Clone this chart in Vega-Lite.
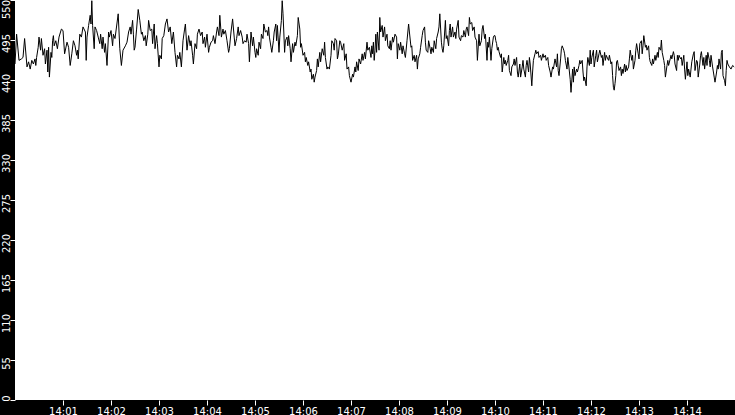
{
  "$schema": "https://vega.github.io/schema/vega-lite/v6.json",
  "description": "Reading over time, 14:00 to 14:15",
  "width": 720,
  "height": 400,
  "autosize": {"type": "none"},
  "padding": {"left": 15, "top": 0, "right": 0, "bottom": 15},
  "background": "#000000",
  "config": {
    "view": {"fill": "#ffffff", "stroke": null},
    "axis": {
      "labelFont": "DejaVu Sans",
      "labelFontSize": 10,
      "labelColor": "#ffffff",
      "tickColor": "#ffffff",
      "tickSize": 5,
      "tickWidth": 1,
      "domain": false,
      "grid": false,
      "title": null,
      "labelOverlap": false
    }
  },
  "data": {
    "format": {"parse": {"time": "date:'%H:%M:%S'"}},
    "values": [
      {"time":"14:00:00","value":462},{"time":"14:00:02","value":503},{"time":"14:00:05","value":467},{"time":"14:00:08","value":469},
      {"time":"14:00:10","value":471},{"time":"14:00:12","value":497},{"time":"14:00:15","value":458},{"time":"14:00:17","value":465},
      {"time":"14:00:19","value":455},{"time":"14:00:21","value":467},{"time":"14:00:23","value":462},{"time":"14:00:25","value":469},
      {"time":"14:00:26","value":460},{"time":"14:00:27","value":471},{"time":"14:00:29","value":485},{"time":"14:00:30","value":499},
      {"time":"14:00:32","value":481},{"time":"14:00:33","value":497},{"time":"14:00:35","value":474},{"time":"14:00:37","value":483},
      {"time":"14:00:38","value":462},{"time":"14:00:40","value":481},{"time":"14:00:41","value":451},{"time":"14:00:42","value":485},
      {"time":"14:00:43","value":444},{"time":"14:00:45","value":478},{"time":"14:00:46","value":471},{"time":"14:00:47","value":494},
      {"time":"14:00:48","value":501},{"time":"14:00:49","value":487},{"time":"14:00:51","value":494},{"time":"14:00:53","value":483},
      {"time":"14:00:55","value":499},{"time":"14:00:58","value":510},{"time":"14:01:00","value":508},{"time":"14:01:02","value":476},
      {"time":"14:01:05","value":492},{"time":"14:01:07","value":485},{"time":"14:01:09","value":460},{"time":"14:01:11","value":476},
      {"time":"14:01:13","value":494},{"time":"14:01:15","value":487},{"time":"14:01:17","value":474},{"time":"14:01:18","value":481},
      {"time":"14:01:19","value":469},{"time":"14:01:21","value":503},{"time":"14:01:23","value":499},{"time":"14:01:25","value":513},
      {"time":"14:01:28","value":506},{"time":"14:01:29","value":467},{"time":"14:01:30","value":499},{"time":"14:01:32","value":515},
      {"time":"14:01:34","value":529},{"time":"14:01:35","value":517},{"time":"14:01:36","value":549},{"time":"14:01:37","value":515},
      {"time":"14:01:39","value":483},{"time":"14:01:40","value":513},{"time":"14:01:42","value":508},{"time":"14:01:44","value":499},
      {"time":"14:01:46","value":490},{"time":"14:01:47","value":503},{"time":"14:01:49","value":483},{"time":"14:01:50","value":499},
      {"time":"14:01:52","value":478},{"time":"14:01:53","value":490},{"time":"14:01:55","value":460},{"time":"14:01:57","value":506},
      {"time":"14:01:58","value":499},{"time":"14:02:00","value":508},{"time":"14:02:02","value":487},{"time":"14:02:03","value":503},
      {"time":"14:02:05","value":497},{"time":"14:02:09","value":531},{"time":"14:02:11","value":483},{"time":"14:02:13","value":460},
      {"time":"14:02:15","value":481},{"time":"14:02:18","value":487},{"time":"14:02:20","value":492},{"time":"14:02:22","value":506},
      {"time":"14:02:24","value":513},{"time":"14:02:25","value":503},{"time":"14:02:27","value":522},{"time":"14:02:28","value":503},
      {"time":"14:02:29","value":481},
      {"time":"14:02:30","value":485},{"time":"14:02:32","value":510},{"time":"14:02:34","value":537},{"time":"14:02:36","value":522},
      {"time":"14:02:38","value":503},{"time":"14:02:39","value":506},{"time":"14:02:41","value":494},{"time":"14:02:43","value":501},
      {"time":"14:02:44","value":487},{"time":"14:02:46","value":503},{"time":"14:02:47","value":522},{"time":"14:02:49","value":508},
      {"time":"14:02:51","value":510},{"time":"14:02:52","value":490},{"time":"14:02:54","value":517},{"time":"14:02:55","value":483},
      {"time":"14:02:57","value":501},{"time":"14:02:58","value":490},{"time":"14:03:00","value":458},{"time":"14:03:01","value":474},
      {"time":"14:03:03","value":469},{"time":"14:03:04","value":497},{"time":"14:03:06","value":501},{"time":"14:03:08","value":517},
      {"time":"14:03:10","value":524},{"time":"14:03:12","value":506},{"time":"14:03:14","value":513},{"time":"14:03:16","value":490},
      {"time":"14:03:18","value":506},{"time":"14:03:20","value":478},{"time":"14:03:22","value":458},{"time":"14:03:23","value":474},
      {"time":"14:03:25","value":469},{"time":"14:03:26","value":478},{"time":"14:03:28","value":458},{"time":"14:03:30","value":494},
      {"time":"14:03:32","value":510},{"time":"14:03:33","value":517},{"time":"14:03:35","value":481},{"time":"14:03:37","value":501},
      {"time":"14:03:39","value":487},{"time":"14:03:40","value":494},{"time":"14:03:42","value":474},{"time":"14:03:43","value":462},
      {"time":"14:03:45","value":490},{"time":"14:03:47","value":483},{"time":"14:03:48","value":503},{"time":"14:03:50","value":510},
      {"time":"14:03:52","value":501},{"time":"14:03:54","value":506},{"time":"14:03:55","value":490},{"time":"14:03:57","value":499},
      {"time":"14:03:58","value":485},{"time":"14:04:00","value":503},{"time":"14:04:02","value":478},{"time":"14:04:03","value":485},
      {"time":"14:04:05","value":492},{"time":"14:04:07","value":494},{"time":"14:04:08","value":501},{"time":"14:04:10","value":490},
      {"time":"14:04:12","value":506},{"time":"14:04:13","value":513},{"time":"14:04:15","value":501},{"time":"14:04:16","value":529},
      {"time":"14:04:18","value":499},{"time":"14:04:20","value":510},{"time":"14:04:21","value":503},{"time":"14:04:23","value":508},
      {"time":"14:04:25","value":494},{"time":"14:04:27","value":478},{"time":"14:04:28","value":483},{"time":"14:04:30","value":506},
      {"time":"14:04:32","value":524},{"time":"14:04:34","value":499},{"time":"14:04:35","value":487},{"time":"14:04:37","value":497},
      {"time":"14:04:39","value":513},{"time":"14:04:40","value":501},{"time":"14:04:42","value":508},{"time":"14:04:44","value":499},
      {"time":"14:04:45","value":490},{"time":"14:04:47","value":494},{"time":"14:04:49","value":492},{"time":"14:04:50","value":503},
      {"time":"14:04:52","value":490},{"time":"14:04:53","value":465},{"time":"14:04:55","value":506},{"time":"14:04:57","value":487},
      {"time":"14:04:58","value":499},
      {"time":"14:05:00","value":478},{"time":"14:05:01","value":471},{"time":"14:05:02","value":483},{"time":"14:05:04","value":474},
      {"time":"14:05:05","value":492},{"time":"14:05:07","value":483},{"time":"14:05:08","value":503},{"time":"14:05:10","value":497},
      {"time":"14:05:11","value":517},{"time":"14:05:13","value":506},{"time":"14:05:15","value":508},{"time":"14:05:16","value":501},
      {"time":"14:05:17","value":513},{"time":"14:05:18","value":499},{"time":"14:05:20","value":485},{"time":"14:05:21","value":478},
      {"time":"14:05:23","value":494},{"time":"14:05:24","value":506},{"time":"14:05:26","value":517},{"time":"14:05:27","value":494},
      {"time":"14:05:28","value":515},{"time":"14:05:30","value":478},{"time":"14:05:31","value":499},{"time":"14:05:33","value":522},
      {"time":"14:05:34","value":549},{"time":"14:05:35","value":531},{"time":"14:05:36","value":506},{"time":"14:05:37","value":478},
      {"time":"14:05:38","value":494},{"time":"14:05:40","value":499},{"time":"14:05:41","value":487},{"time":"14:05:42","value":501},
      {"time":"14:05:44","value":483},{"time":"14:05:45","value":465},{"time":"14:05:47","value":490},{"time":"14:05:48","value":478},
      {"time":"14:05:50","value":492},{"time":"14:05:51","value":487},{"time":"14:05:53","value":501},{"time":"14:05:54","value":526},
      {"time":"14:05:56","value":510},{"time":"14:05:57","value":485},{"time":"14:05:58","value":490},{"time":"14:06:00","value":474},
      {"time":"14:06:02","value":478},{"time":"14:06:03","value":465},{"time":"14:06:04","value":471},{"time":"14:06:06","value":460},
      {"time":"14:06:07","value":465},{"time":"14:06:09","value":451},{"time":"14:06:10","value":455},{"time":"14:06:11","value":441},
      {"time":"14:06:13","value":448},{"time":"14:06:14","value":437},{"time":"14:06:15","value":444},{"time":"14:06:17","value":453},
      {"time":"14:06:18","value":469},{"time":"14:06:19","value":458},{"time":"14:06:21","value":478},{"time":"14:06:22","value":465},
      {"time":"14:06:24","value":483},{"time":"14:06:26","value":474},{"time":"14:06:27","value":492},{"time":"14:06:28","value":471},
      {"time":"14:06:30","value":455},{"time":"14:06:31","value":458},{"time":"14:06:33","value":455},{"time":"14:06:35","value":474},
      {"time":"14:06:36","value":494},{"time":"14:06:38","value":490},{"time":"14:06:39","value":481},{"time":"14:06:40","value":497},
      {"time":"14:06:42","value":494},{"time":"14:06:43","value":469},{"time":"14:06:44","value":474},{"time":"14:06:46","value":494},
      {"time":"14:06:47","value":492},{"time":"14:06:49","value":481},{"time":"14:06:51","value":490},{"time":"14:06:52","value":467},
      {"time":"14:06:54","value":476},{"time":"14:06:55","value":455},{"time":"14:06:57","value":458},{"time":"14:06:58","value":446},
      {"time":"14:07:00","value":437},{"time":"14:07:02","value":448},{"time":"14:07:03","value":444},{"time":"14:07:05","value":458},
      {"time":"14:07:06","value":451},{"time":"14:07:07","value":465},{"time":"14:07:09","value":453},{"time":"14:07:10","value":469},
      {"time":"14:07:12","value":462},{"time":"14:07:14","value":476},{"time":"14:07:15","value":467},{"time":"14:07:17","value":478},
      {"time":"14:07:18","value":469},{"time":"14:07:20","value":492},{"time":"14:07:21","value":481},{"time":"14:07:23","value":485},
      {"time":"14:07:25","value":471},{"time":"14:07:26","value":487},{"time":"14:07:27","value":476},{"time":"14:07:28","value":492},
      {"time":"14:07:29","value":467},
      {"time":"14:07:30","value":481},{"time":"14:07:31","value":503},{"time":"14:07:32","value":478},{"time":"14:07:33","value":506},
      {"time":"14:07:35","value":481},{"time":"14:07:36","value":526},{"time":"14:07:37","value":506},{"time":"14:07:39","value":515},
      {"time":"14:07:40","value":499},{"time":"14:07:42","value":513},{"time":"14:07:43","value":494},{"time":"14:07:45","value":503},
      {"time":"14:07:46","value":487},{"time":"14:07:48","value":483},{"time":"14:07:49","value":494},{"time":"14:07:50","value":481},
      {"time":"14:07:52","value":499},{"time":"14:07:53","value":492},{"time":"14:07:55","value":503},{"time":"14:07:57","value":499},
      {"time":"14:07:58","value":469},{"time":"14:07:59","value":490},{"time":"14:08:01","value":481},{"time":"14:08:02","value":492},
      {"time":"14:08:04","value":476},{"time":"14:08:05","value":487},{"time":"14:08:07","value":476},{"time":"14:08:08","value":471},
      {"time":"14:08:10","value":494},{"time":"14:08:12","value":517},{"time":"14:08:13","value":506},{"time":"14:08:15","value":485},
      {"time":"14:08:16","value":487},{"time":"14:08:17","value":467},{"time":"14:08:19","value":474},{"time":"14:08:20","value":465},
      {"time":"14:08:22","value":474},{"time":"14:08:23","value":455},{"time":"14:08:24","value":469},{"time":"14:08:26","value":476},
      {"time":"14:08:27","value":485},{"time":"14:08:29","value":501},{"time":"14:08:30","value":508},{"time":"14:08:32","value":513},
      {"time":"14:08:33","value":492},{"time":"14:08:34","value":481},{"time":"14:08:36","value":478},{"time":"14:08:37","value":494},
      {"time":"14:08:39","value":483},{"time":"14:08:40","value":476},{"time":"14:08:41","value":485},{"time":"14:08:43","value":478},
      {"time":"14:08:44","value":494},{"time":"14:08:46","value":483},{"time":"14:08:47","value":497},{"time":"14:08:49","value":506},
      {"time":"14:08:50","value":513},{"time":"14:08:51","value":531},{"time":"14:08:53","value":492},{"time":"14:08:54","value":483},
      {"time":"14:08:55","value":478},{"time":"14:08:56","value":487},{"time":"14:08:58","value":522},{"time":"14:08:59","value":497},
      {"time":"14:09:00","value":501},{"time":"14:09:02","value":487},{"time":"14:09:03","value":508},{"time":"14:09:04","value":517},
      {"time":"14:09:05","value":499},{"time":"14:09:07","value":513},{"time":"14:09:08","value":499},{"time":"14:09:10","value":506},
      {"time":"14:09:11","value":497},{"time":"14:09:12","value":510},{"time":"14:09:14","value":522},{"time":"14:09:15","value":499},
      {"time":"14:09:17","value":494},{"time":"14:09:18","value":501},{"time":"14:09:20","value":499},{"time":"14:09:21","value":508},
      {"time":"14:09:23","value":499},{"time":"14:09:24","value":510},{"time":"14:09:25","value":513},{"time":"14:09:27","value":501},
      {"time":"14:09:28","value":526},{"time":"14:09:29","value":517},{"time":"14:09:31","value":519},{"time":"14:09:32","value":508},
      {"time":"14:09:34","value":513},{"time":"14:09:35","value":499},{"time":"14:09:37","value":494},{"time":"14:09:38","value":467},
      {"time":"14:09:40","value":503},{"time":"14:09:41","value":487},{"time":"14:09:43","value":494},{"time":"14:09:44","value":510},
      {"time":"14:09:45","value":515},{"time":"14:09:47","value":497},{"time":"14:09:48","value":503},{"time":"14:09:50","value":467},
      {"time":"14:09:51","value":492},{"time":"14:09:52","value":485},{"time":"14:09:53","value":499},{"time":"14:09:55","value":467},
      {"time":"14:09:56","value":483},{"time":"14:09:58","value":499},{"time":"14:09:59","value":501},
      {"time":"14:10:00","value":501},{"time":"14:10:01","value":494},{"time":"14:10:02","value":490},{"time":"14:10:03","value":481},
      {"time":"14:10:04","value":485},{"time":"14:10:05","value":479},{"time":"14:10:07","value":471},{"time":"14:10:08","value":476},
      {"time":"14:10:09","value":451},{"time":"14:10:11","value":471},{"time":"14:10:12","value":462},{"time":"14:10:13","value":467},
      {"time":"14:10:14","value":460},{"time":"14:10:16","value":467},{"time":"14:10:17","value":474},{"time":"14:10:18","value":453},
      {"time":"14:10:20","value":446},{"time":"14:10:21","value":458},{"time":"14:10:23","value":462},{"time":"14:10:24","value":469},
      {"time":"14:10:25","value":460},{"time":"14:10:27","value":471},{"time":"14:10:28","value":451},{"time":"14:10:29","value":444},
      {"time":"14:10:31","value":462},{"time":"14:10:32","value":444},{"time":"14:10:34","value":458},{"time":"14:10:35","value":467},
      {"time":"14:10:36","value":455},{"time":"14:10:38","value":444},{"time":"14:10:39","value":460},{"time":"14:10:40","value":467},
      {"time":"14:10:42","value":451},{"time":"14:10:43","value":471},{"time":"14:10:44","value":462},{"time":"14:10:46","value":432},
      {"time":"14:10:47","value":451},{"time":"14:10:48","value":467},{"time":"14:10:50","value":476},{"time":"14:10:51","value":481},
      {"time":"14:10:52","value":476},{"time":"14:10:54","value":479},{"time":"14:10:55","value":471},{"time":"14:10:57","value":474},
      {"time":"14:10:58","value":467},{"time":"14:11:00","value":476},{"time":"14:11:01","value":471},{"time":"14:11:03","value":474},
      {"time":"14:11:04","value":467},{"time":"14:11:06","value":471},{"time":"14:11:07","value":460},{"time":"14:11:09","value":451},
      {"time":"14:11:10","value":444},{"time":"14:11:12","value":458},{"time":"14:11:13","value":455},{"time":"14:11:14","value":462},
      {"time":"14:11:15","value":469},{"time":"14:11:17","value":458},{"time":"14:11:18","value":476},{"time":"14:11:19","value":453},
      {"time":"14:11:20","value":446},{"time":"14:11:22","value":469},{"time":"14:11:23","value":483},{"time":"14:11:24","value":487},
      {"time":"14:11:26","value":481},{"time":"14:11:27","value":476},{"time":"14:11:28","value":467},{"time":"14:11:30","value":455},
      {"time":"14:11:31","value":471},{"time":"14:11:32","value":462},{"time":"14:11:34","value":441},{"time":"14:11:35","value":423},
      {"time":"14:11:37","value":455},{"time":"14:11:38","value":437},{"time":"14:11:39","value":458},{"time":"14:11:40","value":446},
      {"time":"14:11:42","value":455},{"time":"14:11:43","value":451},{"time":"14:11:45","value":460},{"time":"14:11:46","value":467},
      {"time":"14:11:47","value":462},{"time":"14:11:49","value":467},{"time":"14:11:50","value":451},{"time":"14:11:51","value":439},
      {"time":"14:11:52","value":444},{"time":"14:11:54","value":432},{"time":"14:11:55","value":458},{"time":"14:11:56","value":471},
      {"time":"14:11:58","value":460},{"time":"14:11:59","value":481},{"time":"14:12:00","value":462},{"time":"14:12:01","value":471},
      {"time":"14:12:03","value":481},{"time":"14:12:04","value":458},{"time":"14:12:06","value":474},{"time":"14:12:07","value":481},
      {"time":"14:12:08","value":465},{"time":"14:12:10","value":476},{"time":"14:12:11","value":481},{"time":"14:12:13","value":471},
      {"time":"14:12:14","value":474},{"time":"14:12:15","value":460},{"time":"14:12:17","value":478},{"time":"14:12:18","value":467},
      {"time":"14:12:19","value":474},{"time":"14:12:21","value":469},{"time":"14:12:22","value":467},{"time":"14:12:23","value":474},
      {"time":"14:12:25","value":462},{"time":"14:12:26","value":465},{"time":"14:12:27","value":446},{"time":"14:12:28","value":430},
      {"time":"14:12:29","value":426},
      {"time":"14:12:30","value":435},{"time":"14:12:31","value":446},{"time":"14:12:32","value":465},{"time":"14:12:33","value":467},
      {"time":"14:12:34","value":460},{"time":"14:12:35","value":453},{"time":"14:12:37","value":458},{"time":"14:12:38","value":446},
      {"time":"14:12:39","value":455},{"time":"14:12:40","value":449},{"time":"14:12:42","value":462},{"time":"14:12:43","value":451},
      {"time":"14:12:44","value":460},{"time":"14:12:45","value":453},{"time":"14:12:47","value":458},{"time":"14:12:48","value":469},
      {"time":"14:12:49","value":481},{"time":"14:12:51","value":467},{"time":"14:12:52","value":474},{"time":"14:12:53","value":455},
      {"time":"14:12:55","value":467},{"time":"14:12:56","value":481},{"time":"14:12:57","value":490},{"time":"14:12:59","value":476},
      {"time":"14:13:00","value":469},{"time":"14:13:01","value":490},{"time":"14:13:03","value":494},{"time":"14:13:04","value":476},
      {"time":"14:13:05","value":487},{"time":"14:13:06","value":501},{"time":"14:13:08","value":485},{"time":"14:13:09","value":488},
      {"time":"14:13:10","value":481},{"time":"14:13:12","value":487},{"time":"14:13:13","value":471},{"time":"14:13:14","value":465},
      {"time":"14:13:16","value":460},{"time":"14:13:17","value":469},{"time":"14:13:18","value":462},{"time":"14:13:20","value":474},
      {"time":"14:13:21","value":467},{"time":"14:13:23","value":478},{"time":"14:13:24","value":471},{"time":"14:13:25","value":485},
      {"time":"14:13:27","value":481},{"time":"14:13:28","value":495},{"time":"14:13:29","value":478},{"time":"14:13:31","value":467},
      {"time":"14:13:32","value":460},{"time":"14:13:33","value":444},{"time":"14:13:35","value":460},{"time":"14:13:36","value":467},
      {"time":"14:13:37","value":460},{"time":"14:13:39","value":469},{"time":"14:13:40","value":474},{"time":"14:13:41","value":469},
      {"time":"14:13:43","value":479},{"time":"14:13:44","value":474},{"time":"14:13:45","value":462},{"time":"14:13:47","value":453},
      {"time":"14:13:48","value":474},{"time":"14:13:49","value":467},{"time":"14:13:50","value":474},{"time":"14:13:52","value":469},
      {"time":"14:13:53","value":471},{"time":"14:13:54","value":460},{"time":"14:13:56","value":474},{"time":"14:13:57","value":455},
      {"time":"14:13:58","value":441},{"time":"14:14:00","value":465},{"time":"14:14:01","value":446},{"time":"14:14:02","value":455},
      {"time":"14:14:04","value":444},{"time":"14:14:05","value":455},{"time":"14:14:06","value":465},{"time":"14:14:08","value":476},
      {"time":"14:14:09","value":479},{"time":"14:14:10","value":453},{"time":"14:14:12","value":467},{"time":"14:14:13","value":465},
      {"time":"14:14:14","value":444},{"time":"14:14:16","value":462},{"time":"14:14:17","value":474},{"time":"14:14:18","value":479},
      {"time":"14:14:20","value":460},{"time":"14:14:21","value":471},{"time":"14:14:22","value":455},{"time":"14:14:24","value":474},
      {"time":"14:14:25","value":460},{"time":"14:14:26","value":478},{"time":"14:14:28","value":467},{"time":"14:14:29","value":458},
      {"time":"14:14:30","value":474},{"time":"14:14:32","value":458},{"time":"14:14:33","value":451},{"time":"14:14:34","value":444},
      {"time":"14:14:35","value":437},{"time":"14:14:37","value":451},{"time":"14:14:38","value":460},{"time":"14:14:39","value":455},
      {"time":"14:14:40","value":469},{"time":"14:14:42","value":455},{"time":"14:14:43","value":478},{"time":"14:14:44","value":481},
      {"time":"14:14:45","value":446},{"time":"14:14:47","value":439},{"time":"14:14:48","value":432},{"time":"14:14:49","value":453},
      {"time":"14:14:50","value":467},{"time":"14:14:51","value":462},{"time":"14:14:53","value":458},{"time":"14:14:55","value":455},
      {"time":"14:14:57","value":460},{"time":"14:14:59","value":458}
    ]
  },
  "mark": {"type": "line", "color": "#000000", "strokeWidth": 1, "clip": true},
  "encoding": {
    "x": {
      "field": "time",
      "type": "temporal",
      "scale": {
        "domain": [
          {"year": 1900, "month": 1, "date": 1, "hours": 14, "minutes": 0},
          {"year": 1900, "month": 1, "date": 1, "hours": 14, "minutes": 15}
        ]
      },
      "axis": {
        "values": [
          {"year": 1900, "month": 1, "date": 1, "hours": 14, "minutes": 1},
          {"year": 1900, "month": 1, "date": 1, "hours": 14, "minutes": 2},
          {"year": 1900, "month": 1, "date": 1, "hours": 14, "minutes": 3},
          {"year": 1900, "month": 1, "date": 1, "hours": 14, "minutes": 4},
          {"year": 1900, "month": 1, "date": 1, "hours": 14, "minutes": 5},
          {"year": 1900, "month": 1, "date": 1, "hours": 14, "minutes": 6},
          {"year": 1900, "month": 1, "date": 1, "hours": 14, "minutes": 7},
          {"year": 1900, "month": 1, "date": 1, "hours": 14, "minutes": 8},
          {"year": 1900, "month": 1, "date": 1, "hours": 14, "minutes": 9},
          {"year": 1900, "month": 1, "date": 1, "hours": 14, "minutes": 10},
          {"year": 1900, "month": 1, "date": 1, "hours": 14, "minutes": 11},
          {"year": 1900, "month": 1, "date": 1, "hours": 14, "minutes": 12},
          {"year": 1900, "month": 1, "date": 1, "hours": 14, "minutes": 13},
          {"year": 1900, "month": 1, "date": 1, "hours": 14, "minutes": 14}
        ],
        "format": "%H:%M",
        "labelAngle": 0,
        "labelAlign": "center",
        "labelBaseline": "alphabetic",
        "labelPadding": 9,
        "labelFlush": false
      }
    },
    "y": {
      "field": "value",
      "type": "quantitative",
      "scale": {"domain": [0, 550], "nice": false},
      "axis": {
        "values": [0, 55, 110, 165, 220, 275, 330, 385, 440, 495, 550],
        "labelAngle": -90,
        "labelAlign": "center",
        "labelBaseline": "alphabetic",
        "labelPadding": 1,
        "labelOffset": {
          "condition": [
            {"test": "datum.value == 550", "value": 9},
            {"test": "datum.value == 0", "value": -2}
          ],
          "value": 3
        }
      }
    }
  }
}
